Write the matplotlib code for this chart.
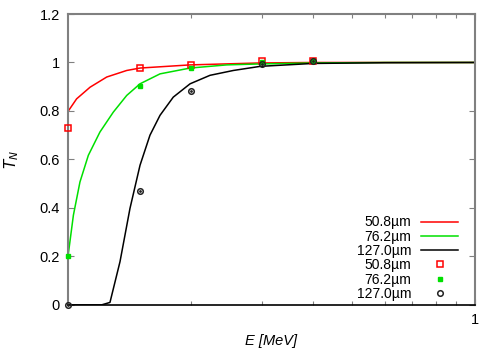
import matplotlib
matplotlib.use("Agg")
import matplotlib.pyplot as plt
from matplotlib.ticker import FixedLocator, NullFormatter, FixedFormatter

plt.rcParams['font.family'] = ['Liberation Sans', 'DejaVu Sans']

# Model curves (E in MeV, transmission)
e_red = [0.1, 0.1050, 0.1133, 0.1245, 0.1394, 0.1503, 0.1995, 0.2967, 0.4, 0.6, 1.0]
t_red = [0.798, 0.850, 0.898, 0.940, 0.967, 0.977, 0.990, 0.998, 1.0, 1.0, 1.0]

e_green = [0.1, 0.1031, 0.1070, 0.1122, 0.1198, 0.1292, 0.1394, 0.1503, 0.1683, 0.1995, 0.2455, 0.2967, 0.4, 0.6, 1.0]
t_green = [0.20, 0.370, 0.507, 0.617, 0.713, 0.795, 0.864, 0.912, 0.953, 0.977, 0.990, 0.994, 0.998, 1.0, 1.0]

e_black = [0.1, 0.1210, 0.1268, 0.1342, 0.1420, 0.1503, 0.1590, 0.1683, 0.1814, 0.1995, 0.2233, 0.2548, 0.2967, 0.4, 0.6, 1.0]
t_black = [0.0, 0.0, 0.010, 0.178, 0.398, 0.576, 0.700, 0.782, 0.857, 0.912, 0.947, 0.967, 0.984, 0.996, 0.999, 1.0]

# Measured points
e_pts = [0.1, 0.15, 0.2, 0.3, 0.4]
p_red = [0.730, 0.978, 0.990, 1.005, 1.005]
p_green = [0.20, 0.901, 0.977, 1.0, 1.005]
p_black = [0.0, 0.470, 0.881, 0.995, 1.005]

labels = ["50.8\u00b5m", "76.2\u00b5m", "127.0\u00b5m"]

fig = plt.figure(figsize=(5, 3.5), dpi=100)
ax = fig.add_axes([0.136, 0.129, 0.814, 0.831])

ax.plot(e_red, t_red, color='#ff0000', lw=1.1, label=labels[0])
ax.plot(e_green, t_green, color='#00e000', lw=1.1, label=labels[1])
ax.plot(e_black, t_black, color='black', lw=1.1, label=labels[2])
ax.plot(e_pts, p_red, ls='none', marker='s', ms=3.8, mfc='none', mec='#ff0000', mew=1.1,
        label=labels[0], clip_on=False, zorder=5)
ax.plot(e_pts, p_green, ls='none', marker='s', ms=3.2, color='#00e000', label=labels[1],
        clip_on=False, zorder=5)
ax.plot(e_pts, p_black, ls='none', marker='o', ms=4, mfc='none', mec='#222222', mew=1.1,
        label=labels[2], clip_on=False, zorder=5)
ax.plot(e_pts, p_black, ls='none', marker='.', ms=2, color='#222222', clip_on=False, zorder=5)

ax.set_xscale('log')
ax.set_xlim(0.1, 1.0)
ax.set_ylim(0, 1.2)
ax.xaxis.set_major_locator(FixedLocator([1.0]))
ax.xaxis.set_major_formatter(FixedFormatter(['1']))
ax.xaxis.set_minor_locator(FixedLocator([0.2, 0.3, 0.4, 0.5, 0.6, 0.7, 0.8, 0.9]))
ax.xaxis.set_minor_formatter(NullFormatter())
ax.set_yticks([0, 0.2, 0.4, 0.6, 0.8, 1.0, 1.2])
ax.set_yticklabels(['0', '0.2', '0.4', '0.6', '0.8', '1', '1.2'])

ax.tick_params(which='both', direction='in', top=True, right=True, labelsize=10.5,
               color='#808080', width=0.8)
ax.tick_params(which='major', length=4)
ax.tick_params(which='minor', length=3)
ax.tick_params(axis='x', pad=6)
ax.tick_params(axis='y', pad=6)

for s in ['left', 'top', 'right']:
    ax.spines[s].set_color('#808080')
    ax.spines[s].set_linewidth(1.5)
ax.spines['bottom'].set_color('black')
ax.spines['bottom'].set_linewidth(1.2)

ax.set_xlabel('E [MeV]', fontstyle='italic', fontsize=10.5)
ax.xaxis.set_label_coords(0.5, -0.1)
ax.set_ylabel('$T_N$', fontsize=11)
ax.yaxis.set_label_coords(-0.115, 0.5)

leg = ax.legend(loc='lower right', markerfirst=False, frameon=False, fontsize=10,
                handlelength=2.65, handletextpad=0.72, labelspacing=0.02,
                borderpad=0, borderaxespad=0, bbox_to_anchor=(0.958, 0.014))

fig.savefig('out.png', dpi=100)
